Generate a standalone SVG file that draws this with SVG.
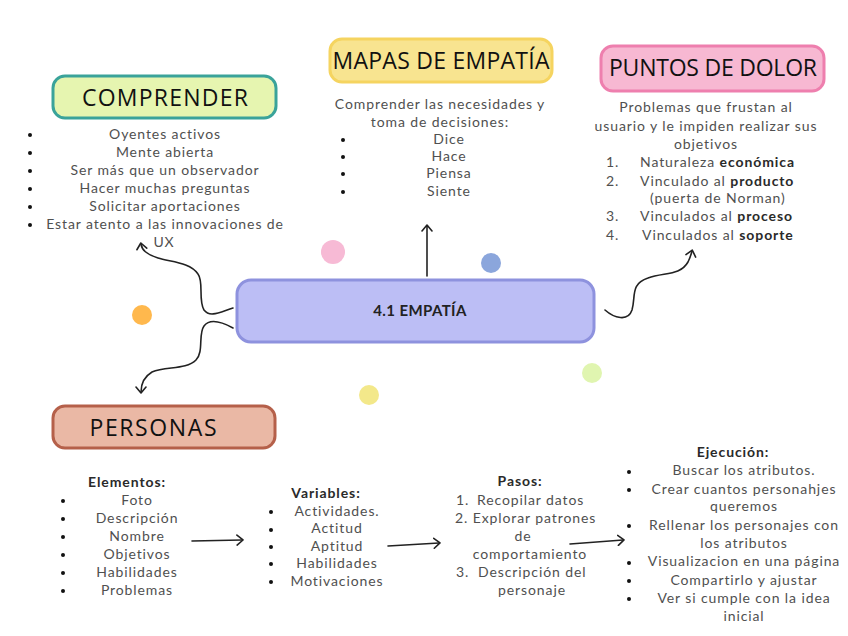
<svg xmlns="http://www.w3.org/2000/svg" width="848" height="636" viewBox="0 0 848 636">
<defs>
<marker id="arr" viewBox="0 0 12 12" refX="6" refY="6" markerWidth="12" markerHeight="12" markerUnits="userSpaceOnUse" orient="auto">
<path d="M1,1 L7,6 L1,11" fill="none" stroke="#222" stroke-width="1.6" stroke-linecap="round" stroke-linejoin="round"/>
</marker>
<style>
.t{font-family:Lato,"Liberation Sans",sans-serif;font-size:14px;letter-spacing:0.9px;fill:#505050}
.c{text-anchor:middle}
.b{font-weight:700;fill:#2a2a2a}
.h{font-family:"Open Sans","Liberation Sans",sans-serif;font-size:23px;font-weight:500;fill:#111;text-anchor:middle}
.ln{fill:none;stroke:#222;stroke-width:1.6;stroke-linecap:round}
.dot{fill:#111}
</style>
</defs>
<rect width="848" height="636" fill="#fff"/>

<g id="dots">
<circle cx="333" cy="252" r="12" fill="#f7bad5"/>
<circle cx="491" cy="263" r="10" fill="#8ba6dc"/>
<circle cx="142" cy="315" r="10" fill="#ffb84d"/>
<circle cx="592" cy="373" r="10" fill="#e0f5b0"/>
<circle cx="369" cy="395" r="10" fill="#f3e88a"/>
</g>

<g id="connectors">
<path class="ln" d="M427,276 L427,226" marker-end="url(#arr)"/>
<path class="ln" d="M233,308 C220,312 210,318 204,310 C198,300 204,282 198,274 C190,262 170,262 158,258 C146,254 142,250 141,244" marker-end="url(#arr)"/>
<path class="ln" d="M233,328 C222,322 210,318 204,326 C198,334 204,352 196,360 C186,370 166,366 152,372 C142,378 141,386 141,392" marker-end="url(#arr)"/>
<path class="ln" d="M605,310 C614,318 628,322 632,310 C636,296 630,284 648,278 C664,272 680,276 688,262 C690,258 691,255 692,251" marker-end="url(#arr)"/>
<path class="ln" d="M192,541 L242,540" marker-end="url(#arr)"/>
<path class="ln" d="M388,546 L439,543" marker-end="url(#arr)"/>
<path class="ln" d="M570,544 L623,540" marker-end="url(#arr)"/>
</g>

<g id="center">
<rect x="237" y="280" width="357" height="62" rx="14" fill="#bcbef5" stroke="#8e92de" stroke-width="3"/>
<text x="420" y="316" class="t c" style="font-size:15px;font-weight:700;fill:#222;letter-spacing:0.4px">4.1 EMPATÍA</text>
</g>

<g id="comprender">
<rect x="53" y="76" width="223" height="42" rx="12" fill="#e6f5b0" stroke="#3aa39a" stroke-width="3"/>
<text x="165" y="106" class="h" textLength="166" lengthAdjust="spacing">COMPRENDER</text>
<g class="t c">
<text x="165" y="139">Oyentes activos</text>
<text x="165" y="157">Mente abierta</text>
<text x="165" y="175">Ser más que un observador</text>
<text x="165" y="193">Hacer muchas preguntas</text>
<text x="165" y="211">Solicitar aportaciones</text>
<text x="165" y="229">Estar atento a las innovaciones de</text>
<text x="164" y="247">UX</text>
</g>
<circle class="dot" cx="30" cy="135" r="2"/>
<circle class="dot" cx="30" cy="153" r="2"/>
<circle class="dot" cx="30" cy="171" r="2"/>
<circle class="dot" cx="30" cy="189" r="2"/>
<circle class="dot" cx="30" cy="207" r="2"/>
<circle class="dot" cx="30" cy="225" r="2"/>
</g>

<g id="mapas">
<rect x="330" y="39" width="222" height="43" rx="12" fill="#f8e490" stroke="#f5d460" stroke-width="3"/>
<text x="441" y="69" class="h" textLength="217" lengthAdjust="spacing">MAPAS DE EMPATÍA</text>
<g class="t c">
<text x="440" y="109">Comprender las necesidades y</text>
<text x="440" y="127">toma de decisiones:</text>
<text x="449" y="144">Dice</text>
<text x="449" y="161">Hace</text>
<text x="449" y="178">Piensa</text>
<text x="449" y="196">Siente</text>
</g>
<circle class="dot" cx="343" cy="140" r="2"/>
<circle class="dot" cx="343" cy="157" r="2"/>
<circle class="dot" cx="343" cy="174" r="2"/>
<circle class="dot" cx="343" cy="192" r="2"/>
</g>

<g id="puntos">
<rect x="601" y="46" width="223" height="45" rx="12" fill="#f7b8d2" stroke="#ee7fae" stroke-width="3"/>
<text x="713" y="76" class="h" textLength="208" lengthAdjust="spacing">PUNTOS DE DOLOR</text>
<g class="t">
<text x="706" y="112" class="c">Problemas que frustan al</text>
<text x="706" y="131" class="c">usuario y le impiden realizar sus</text>
<text x="706" y="149" class="c">objetivos</text>
<text x="606" y="167">1.</text><text x="640" y="167">Naturaleza <tspan class="b">económica</tspan></text>
<text x="606" y="186">2.</text><text x="640" y="186">Vinculado al <tspan class="b">producto</tspan></text>
<text x="650" y="203">(puerta de Norman)</text>
<text x="606" y="221">3.</text><text x="640" y="221">Vinculados al <tspan class="b">proceso</tspan></text>
<text x="606" y="240">4.</text><text x="642" y="240">Vinculados al <tspan class="b">soporte</tspan></text>
</g>
</g>

<g id="personas">
<rect x="53" y="406" width="222" height="42" rx="12" fill="#eab8a5" stroke="#b5604a" stroke-width="3"/>
<text x="153" y="436" class="h" textLength="127" lengthAdjust="spacing">PERSONAS</text>
</g>

<g id="elementos">
<g class="t c">
<text x="127" y="487" class="b">Elementos:</text>
<text x="137" y="505">Foto</text>
<text x="137" y="523">Descripción</text>
<text x="137" y="541">Nombre</text>
<text x="137" y="559">Objetivos</text>
<text x="137" y="577">Habilidades</text>
<text x="137" y="595">Problemas</text>
</g>
<circle class="dot" cx="63" cy="501" r="2"/>
<circle class="dot" cx="63" cy="519" r="2"/>
<circle class="dot" cx="63" cy="537" r="2"/>
<circle class="dot" cx="63" cy="555" r="2"/>
<circle class="dot" cx="63" cy="573" r="2"/>
<circle class="dot" cx="63" cy="591" r="2"/>
</g>

<g id="variables">
<g class="t c">
<text x="326" y="498" class="b">Variables:</text>
<text x="337" y="516">Actividades.</text>
<text x="337" y="533">Actitud</text>
<text x="337" y="551">Aptitud</text>
<text x="337" y="568">Habilidades</text>
<text x="337" y="586">Motivaciones</text>
</g>
<circle class="dot" cx="271" cy="512" r="2"/>
<circle class="dot" cx="271" cy="530" r="2"/>
<circle class="dot" cx="271" cy="547" r="2"/>
<circle class="dot" cx="271" cy="564" r="2"/>
<circle class="dot" cx="271" cy="582" r="2"/>
</g>

<g id="pasos">
<g class="t">
<text x="520" y="486" class="c b">Pasos:</text>
<text x="456" y="505">1.</text><text x="477" y="505">Recopilar datos</text>
<text x="455" y="523">2. Explorar patrones</text>
<text x="523" y="541" class="c">de</text>
<text x="530" y="559" class="c">comportamiento</text>
<text x="456" y="577">3.</text><text x="478" y="577">Descripción del</text>
<text x="532" y="595" class="c">personaje</text>
</g>
</g>

<g id="ejecucion">
<g class="t c">
<text x="733" y="457" class="b">Ejecución:</text>
<text x="744" y="475">Buscar los atributos.</text>
<text x="744" y="494">Crear cuantos personahjes</text>
<text x="744" y="511">queremos</text>
<text x="744" y="530">Rellenar los personajes con</text>
<text x="744" y="548">los atributos</text>
<text x="744" y="566">Visualizacion en una página</text>
<text x="744" y="585">Compartirlo y ajustar</text>
<text x="744" y="603">Ver si cumple con la idea</text>
<text x="744" y="621">inicial</text>
</g>
<circle class="dot" cx="629" cy="472" r="2"/>
<circle class="dot" cx="629" cy="490" r="2"/>
<circle class="dot" cx="629" cy="526" r="2"/>
<circle class="dot" cx="629" cy="563" r="2"/>
<circle class="dot" cx="629" cy="581" r="2"/>
<circle class="dot" cx="629" cy="599" r="2"/>
</g>
</svg>
